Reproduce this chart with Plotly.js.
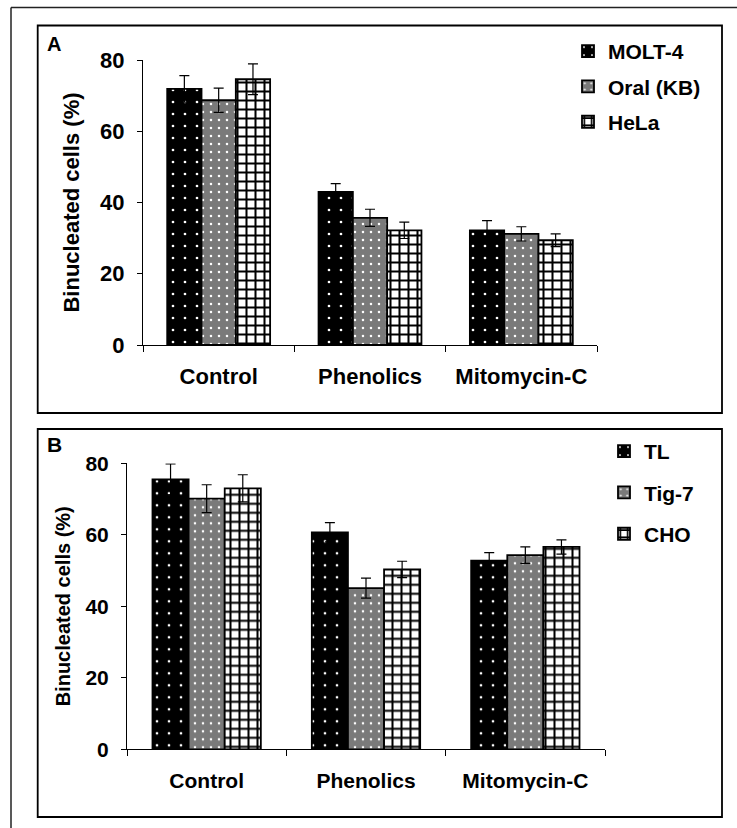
<!DOCTYPE html>
<html>
<head>
<meta charset="utf-8">
<script src="https://cdn.plot.ly/plotly-3.0.1.min.js"></script>
<style>html,body{margin:0;padding:0;background:#fff;}#chart{width:737px;height:828px;}</style>
</head>
<body>
<div id="chart"></div>
<script>
// ---- data ----
const categories = ['Control', 'Phenolics', 'Mitomycin-C'];

// Panel A
const seriesA = ['MOLT-4', 'Oral (KB)', 'HeLa'];
const molt4 = [71.9, 43.0, 32.2];
const molt4Err = [3.7, 2.3, 2.7];
const oralKB = [68.7, 35.7, 31.2];
const oralKBErr = [3.4, 2.4, 2.0];
const hela = [74.6, 32.2, 29.4];
const helaErr = [4.3, 2.3, 1.8];

// Panel B
const seriesB = ['TL', 'Tig-7', 'CHO'];
const tl = [75.5, 60.7, 52.8];
const tlErr = [4.3, 2.7, 2.2];
const tig7 = [70.1, 45.1, 54.3];
const tig7Err = [3.9, 2.8, 2.3];
const cho = [73.0, 50.3, 56.6];
const choErr = [3.8, 2.3, 2.0];

const yTicks = [0, 20, 40, 60, 80];

// ---- styling ----
const W = 737, H = 828;
const px = v => v / W;
const py = v => 1 - v / H;
const FONT = 'Liberation Sans, Arial, sans-serif';

const patterns = [
  {shape: '.', bgcolor: '#000000', fgcolor: '#ffffff', size: 12, solidity: 0.04},
  {shape: '.', bgcolor: '#7a7a7a', fgcolor: '#ffffff', size: 8, solidity: 0.08},
  {shape: '+', bgcolor: '#ffffff', fgcolor: '#000000', size: 9, solidity: 0.4}
];

function barTrace(name, vals, errs, idx, xa, ya, legend) {
  return {
    type: 'bar', name: name, x: categories, y: vals,
    xaxis: xa, yaxis: ya, legend: legend, legendgroup: legend + idx,
    marker: {color: patterns[idx].bgcolor, line: {color: '#000', width: 1.8}, pattern: patterns[idx]},
    error_y: {type: 'data', array: errs, visible: true, color: '#000', thickness: 1.2, width: 5},
    hoverinfo: 'x+y+name'
  };
}

const data = [
  barTrace(seriesA[0], molt4, molt4Err, 0, 'x', 'y', 'legend'),
  barTrace(seriesA[1], oralKB, oralKBErr, 1, 'x', 'y', 'legend'),
  barTrace(seriesA[2], hela, helaErr, 2, 'x', 'y', 'legend'),
  barTrace(seriesB[0], tl, tlErr, 0, 'x2', 'y2', 'legend2'),
  barTrace(seriesB[1], tig7, tig7Err, 1, 'x2', 'y2', 'legend2'),
  barTrace(seriesB[2], cho, choErr, 2, 'x2', 'y2', 'legend2')
];

function xAxis(domain, anchor, size) {
  return {
    domain: domain, anchor: anchor, type: 'category', range: [-0.5, 2.5],
    showline: true, linecolor: '#000', linewidth: 1, showgrid: false, zeroline: false,
    ticks: 'outside', tickson: 'boundaries', ticklen: 6, tickcolor: '#000', tickwidth: 1,
    ticklabelstandoff: 12,
    tickfont: {family: FONT, size: size, color: '#000', weight: 'bold'},
    fixedrange: true
  };
}
function yAxis(domain, anchor, size, tsize, standoff) {
  return {
    domain: domain, anchor: anchor, range: [0, 80], tickvals: yTicks,
    showline: true, linecolor: '#000', linewidth: 1, showgrid: false, zeroline: false,
    ticks: 'outside', ticklen: 5, tickcolor: '#000', tickwidth: 1,
    ticklabelstandoff: 8,
    tickfont: {family: FONT, size: size, color: '#000', weight: 'bold'},
    title: {text: 'Binucleated cells (%)', standoff: standoff, font: {family: FONT, size: tsize, color: '#000', weight: 'bold'}},
    fixedrange: true
  };
}

const layout = {
  width: W, height: H,
  margin: {l: 0, r: 0, t: 0, b: 0},
  paper_bgcolor: '#fff', plot_bgcolor: 'rgba(0,0,0,0)',
  barmode: 'group', bargap: 0.32, bargroupgap: 0,
  xaxis: xAxis([px(143), px(597)], 'y', 22),
  yaxis: yAxis([py(345), py(60)], 'x', 22, 22, 14),
  xaxis2: xAxis([px(127), px(605)], 'y2', 21),
  yaxis2: yAxis([py(749.3), py(463.3)], 'x2', 21, 20, 9),
  legend: {
    x: px(568), xanchor: 'left', y: py(31), yanchor: 'top',
    bgcolor: 'rgba(0,0,0,0)', traceorder: 'grouped', tracegroupgap: 5,
    font: {family: FONT, size: 21, color: '#000', weight: 'bold'}
  },
  legend2: {
    x: px(604), xanchor: 'left', y: py(431), yanchor: 'top',
    bgcolor: 'rgba(0,0,0,0)', traceorder: 'grouped', tracegroupgap: 11,
    font: {family: FONT, size: 21, color: '#000', weight: 'bold'}
  },
  shapes: [
    // outer frame
    {type: 'line', xref: 'paper', yref: 'paper', x0: px(11), x1: px(737), y0: py(7.5), y1: py(7.5), line: {color: '#222', width: 1.5}},
    {type: 'line', xref: 'paper', yref: 'paper', x0: px(11), x1: px(11), y0: py(7.5), y1: py(828), line: {color: '#222', width: 1.5}},
    // panel boxes
    {type: 'rect', xref: 'paper', yref: 'paper', x0: px(37.7), x1: px(722), y0: py(413), y1: py(25.5), line: {color: '#000', width: 1.8}},
    {type: 'rect', xref: 'paper', yref: 'paper', x0: px(37.7), x1: px(722), y0: py(817), y1: py(429), line: {color: '#000', width: 1.8}}
  ],
  annotations: [
    {text: 'A', xref: 'paper', yref: 'paper', x: px(45), y: py(31), xanchor: 'left', yanchor: 'top', showarrow: false,
     font: {family: FONT, size: 20, color: '#000', weight: 'bold'}},
    {text: 'B', xref: 'paper', yref: 'paper', x: px(45), y: py(431), xanchor: 'left', yanchor: 'top', showarrow: false,
     font: {family: FONT, size: 21, color: '#000', weight: 'bold'}}
  ]
};

Plotly.newPlot('chart', data, layout, {displayModeBar: false, staticPlot: true});
</script>
</body>
</html>
